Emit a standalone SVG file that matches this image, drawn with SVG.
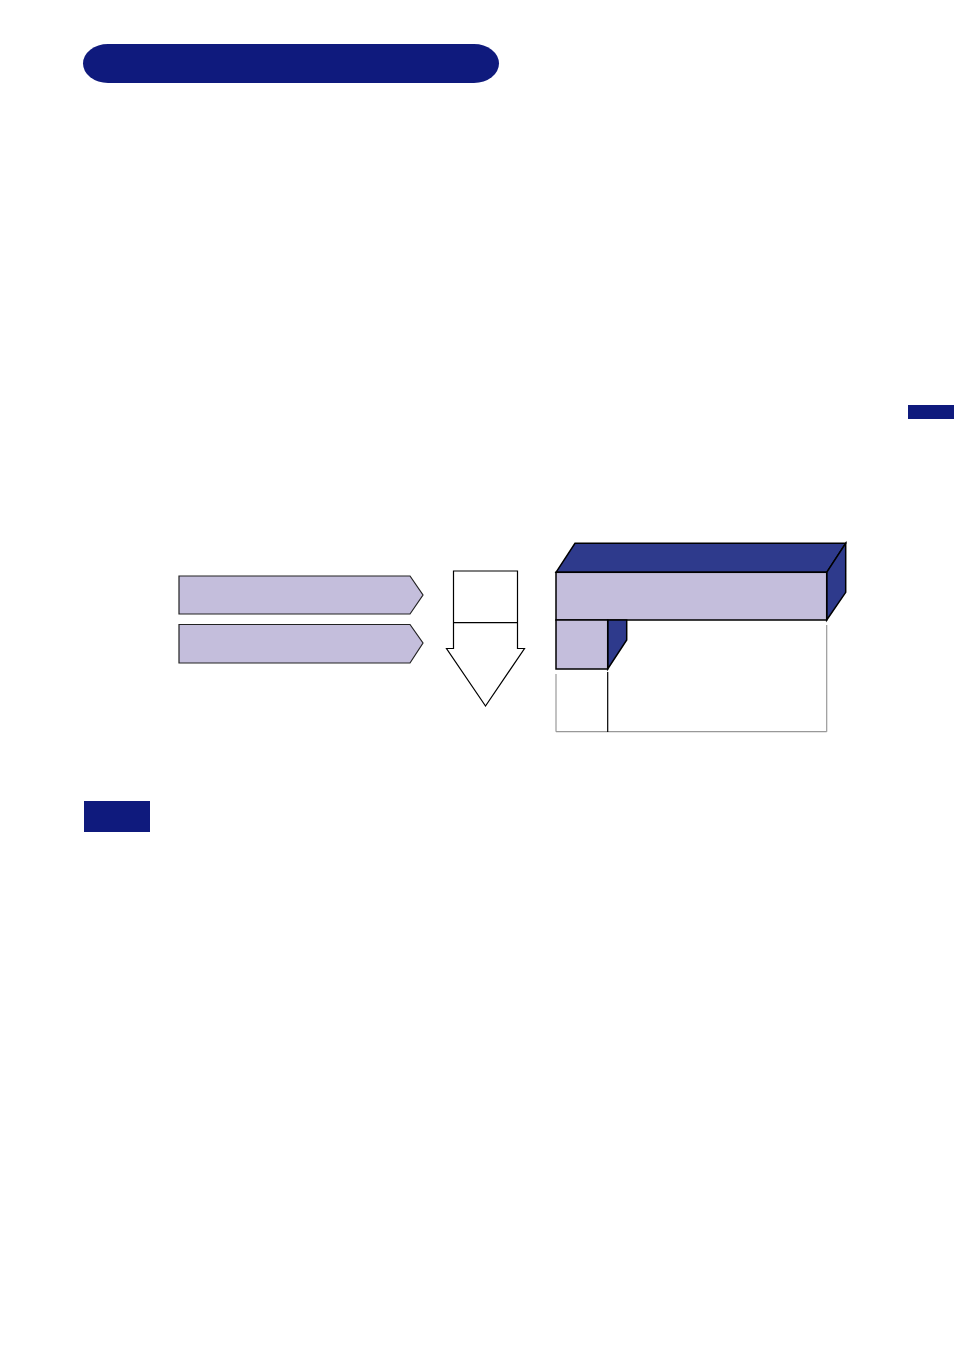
<svg xmlns="http://www.w3.org/2000/svg" width="954" height="1351" viewBox="0 0 954 1351">
<style>
.navy{fill:#0f1a7d}
.dark{fill:#2e3a8c;stroke:#000;stroke-width:1.5;stroke-linejoin:miter}
.lav{fill:#c4bedc;stroke:#000;stroke-width:1.5}
.chev{fill:#c4bedc;stroke:#222;stroke-width:1.2}
.wht{fill:#fff;stroke:#000;stroke-width:1.2}
.gray{fill:none;stroke:#999;stroke-width:1.2}
.blk{fill:none;stroke:#000;stroke-width:1.2}
</style>
<rect width="954" height="1351" fill="#fff"/>
<g id="header"><rect class="navy" x="83" y="44" width="416" height="39" rx="25" ry="19.5"/></g>
<g id="side-tab"><rect class="navy" x="908" y="405" width="46" height="14"/></g>
<g id="note-box"><rect class="navy" x="84" y="801" width="66" height="31"/></g>
<g id="chevron1"><polygon class="chev" points="179,576 410,576 423,595 410,614 179,614"/></g>
<g id="chevron2"><polygon class="chev" points="179,624.5 410,624.5 423,643 410,663 179,663"/></g>
<g id="down-arrow">
<polygon class="wht" points="453.5,571 517.5,571 517.5,648.5 524.5,648.5 485.5,706 446.5,648.5 453.5,648.5"/>
<line class="blk" x1="453.5" y1="622.7" x2="517.5" y2="622.7"/>
</g>
<g id="block">
<g class="connectors">
<line class="gray" x1="556" y1="674" x2="556" y2="731.7"/>
<line class="gray" x1="556" y1="731.7" x2="826.7" y2="731.7"/>
<line class="gray" x1="826.7" y1="625" x2="826.7" y2="731.7"/>
<line class="blk" x1="607.7" y1="672" x2="607.7" y2="732"/>
</g>
<polygon class="dark" points="556,572.3 575,543.3 845.7,543.3 826.7,572.3"/>
<polygon class="dark" points="826.7,572.3 845.7,543.3 845.7,592.3 826.7,620"/>
<rect class="lav" x="556" y="572.3" width="270.7" height="47.7"/>
<polygon class="dark" points="607.7,620 626.7,620 626.7,640 607.7,669"/>
<rect class="lav" x="556" y="620" width="51.7" height="49"/>
</g>
</svg>
